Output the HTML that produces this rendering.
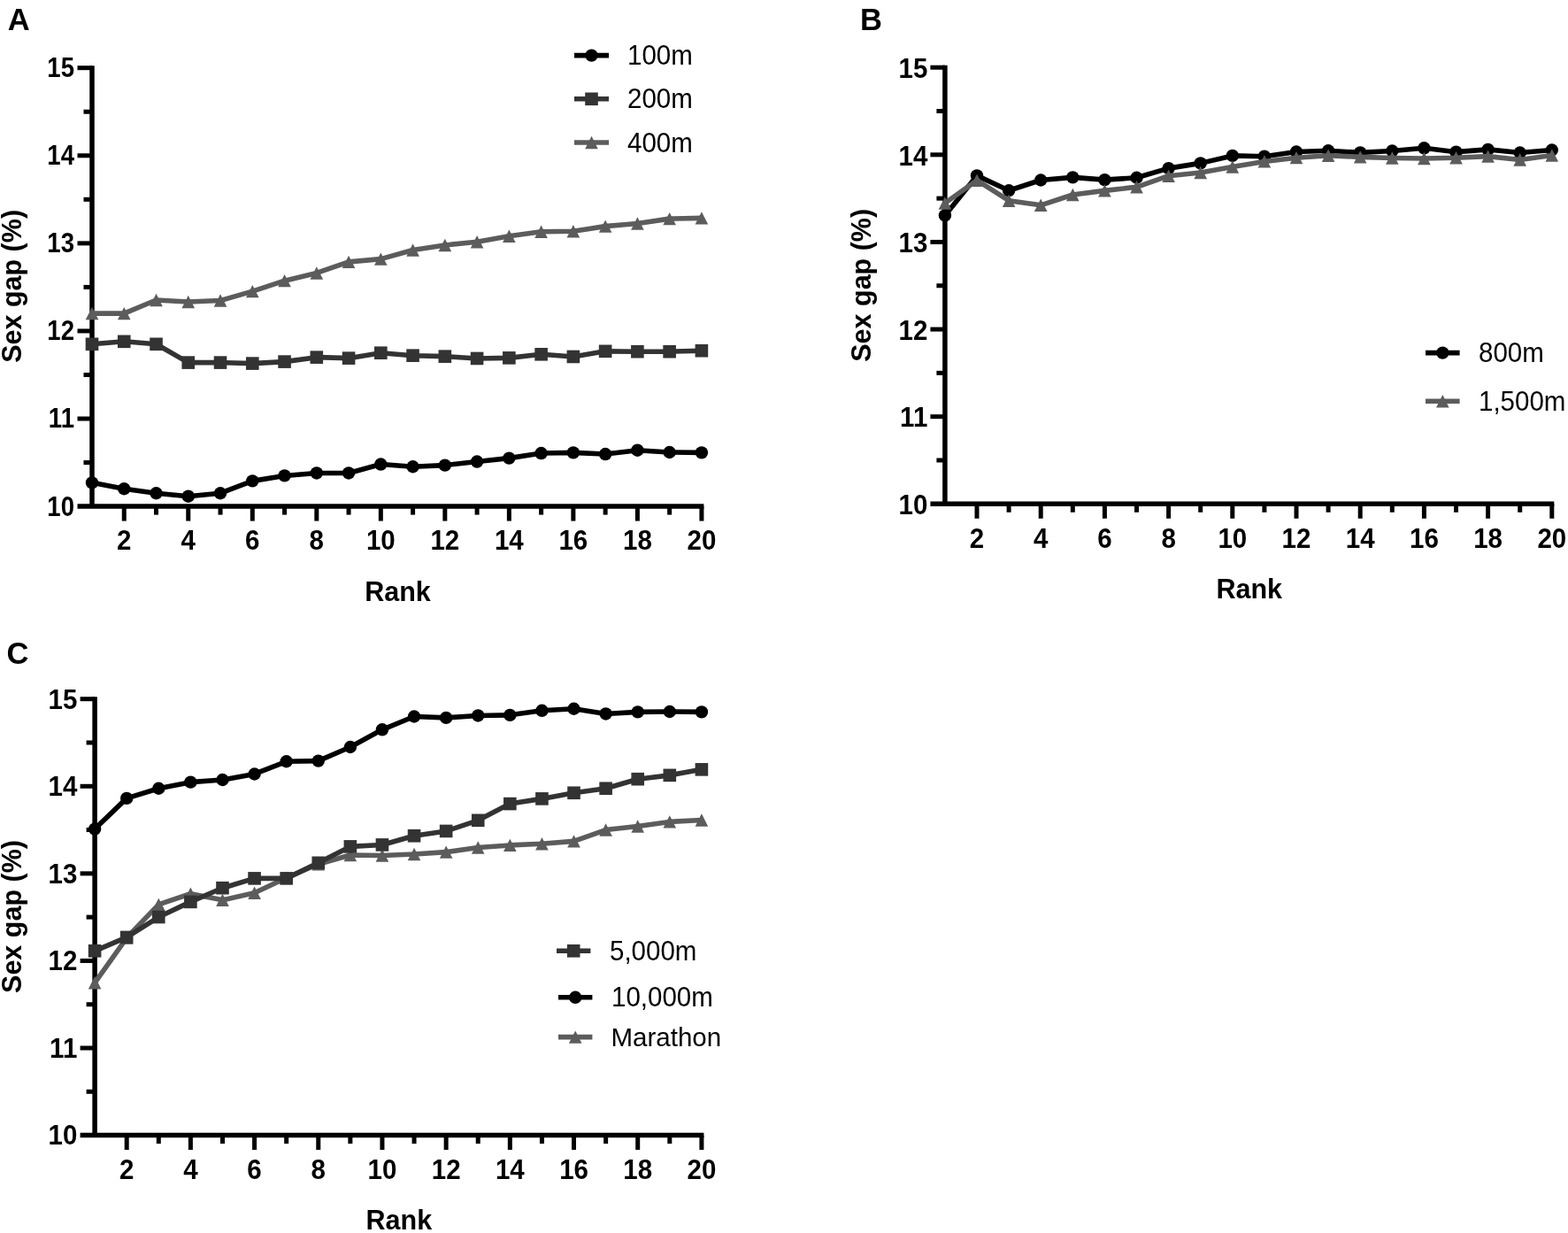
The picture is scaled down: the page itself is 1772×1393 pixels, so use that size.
<!DOCTYPE html>
<html><head><meta charset="utf-8"><title>Sex gap by rank</title>
<style>html,body{margin:0;padding:0;background:#fff;}svg{display:block;}</style>
</head><body>
<svg width="1772" height="1393" viewBox="0 0 1772 1393">
<g stroke="#000" stroke-width="5.5" stroke-linecap="butt"><line x1="104" y1="74.2" x2="104" y2="572.1"/>
<line x1="87.5" y1="572.1" x2="795.4" y2="572.1"/></g><g stroke="#000" stroke-width="5" stroke-linecap="butt"><line x1="94.5" y1="522.56" x2="104" y2="522.56"/>
<line x1="87.5" y1="473.02" x2="104" y2="473.02"/>
<line x1="94.5" y1="423.48" x2="104" y2="423.48"/>
<line x1="87.5" y1="373.94" x2="104" y2="373.94"/>
<line x1="94.5" y1="324.4" x2="104" y2="324.4"/>
<line x1="87.5" y1="274.86" x2="104" y2="274.86"/>
<line x1="94.5" y1="225.32" x2="104" y2="225.32"/>
<line x1="87.5" y1="175.78" x2="104" y2="175.78"/>
<line x1="94.5" y1="126.24" x2="104" y2="126.24"/>
<line x1="87.5" y1="76.7" x2="104" y2="76.7"/>
<line x1="140.26" y1="572.1" x2="140.26" y2="588.6"/>
<line x1="176.52" y1="572.1" x2="176.52" y2="581.6"/>
<line x1="212.77" y1="572.1" x2="212.77" y2="588.6"/>
<line x1="249.03" y1="572.1" x2="249.03" y2="581.6"/>
<line x1="285.29" y1="572.1" x2="285.29" y2="588.6"/>
<line x1="321.55" y1="572.1" x2="321.55" y2="581.6"/>
<line x1="357.81" y1="572.1" x2="357.81" y2="588.6"/>
<line x1="394.06" y1="572.1" x2="394.06" y2="581.6"/>
<line x1="430.32" y1="572.1" x2="430.32" y2="588.6"/>
<line x1="466.58" y1="572.1" x2="466.58" y2="581.6"/>
<line x1="502.84" y1="572.1" x2="502.84" y2="588.6"/>
<line x1="539.09" y1="572.1" x2="539.09" y2="581.6"/>
<line x1="575.35" y1="572.1" x2="575.35" y2="588.6"/>
<line x1="611.61" y1="572.1" x2="611.61" y2="581.6"/>
<line x1="647.87" y1="572.1" x2="647.87" y2="588.6"/>
<line x1="684.13" y1="572.1" x2="684.13" y2="581.6"/>
<line x1="720.38" y1="572.1" x2="720.38" y2="588.6"/>
<line x1="756.64" y1="572.1" x2="756.64" y2="581.6"/>
<line x1="792.9" y1="572.1" x2="792.9" y2="588.6"/></g>
<g font-family="&quot;Liberation Sans&quot;, Arial, sans-serif" font-weight="bold" font-size="29.5"><text transform="translate(84 582.52) scale(1 1.12)" text-anchor="end" font-size="27.6">10</text>
<text transform="translate(84 483.44) scale(1 1.12)" text-anchor="end" font-size="27.6">11</text>
<text transform="translate(84 384.36) scale(1 1.12)" text-anchor="end" font-size="27.6">12</text>
<text transform="translate(84 285.28) scale(1 1.12)" text-anchor="end" font-size="27.6">13</text>
<text transform="translate(84 186.2) scale(1 1.12)" text-anchor="end" font-size="27.6">14</text>
<text transform="translate(84 87.12) scale(1 1.12)" text-anchor="end" font-size="27.6">15</text>
<text transform="translate(140.26 621.3) scale(1 1.06)" text-anchor="middle">2</text>
<text transform="translate(212.77 621.3) scale(1 1.06)" text-anchor="middle">4</text>
<text transform="translate(285.29 621.3) scale(1 1.06)" text-anchor="middle">6</text>
<text transform="translate(357.81 621.3) scale(1 1.06)" text-anchor="middle">8</text>
<text transform="translate(430.32 621.3) scale(1 1.06)" text-anchor="middle">10</text>
<text transform="translate(502.84 621.3) scale(1 1.06)" text-anchor="middle">12</text>
<text transform="translate(575.35 621.3) scale(1 1.06)" text-anchor="middle">14</text>
<text transform="translate(647.87 621.3) scale(1 1.06)" text-anchor="middle">16</text>
<text transform="translate(720.38 621.3) scale(1 1.06)" text-anchor="middle">18</text>
<text transform="translate(792.9 621.3) scale(1 1.06)" text-anchor="middle">20</text></g>
<g stroke="#000" stroke-width="5.5" stroke-linecap="butt"><line x1="1067.9" y1="73.7" x2="1067.9" y2="569.3"/>
<line x1="1051.4" y1="569.3" x2="1756.3" y2="569.3"/></g><g stroke="#000" stroke-width="5" stroke-linecap="butt"><line x1="1058.4" y1="519.99" x2="1067.9" y2="519.99"/>
<line x1="1051.4" y1="470.68" x2="1067.9" y2="470.68"/>
<line x1="1058.4" y1="421.37" x2="1067.9" y2="421.37"/>
<line x1="1051.4" y1="372.06" x2="1067.9" y2="372.06"/>
<line x1="1058.4" y1="322.75" x2="1067.9" y2="322.75"/>
<line x1="1051.4" y1="273.44" x2="1067.9" y2="273.44"/>
<line x1="1058.4" y1="224.13" x2="1067.9" y2="224.13"/>
<line x1="1051.4" y1="174.82" x2="1067.9" y2="174.82"/>
<line x1="1058.4" y1="125.51" x2="1067.9" y2="125.51"/>
<line x1="1051.4" y1="76.2" x2="1067.9" y2="76.2"/>
<line x1="1104" y1="569.3" x2="1104" y2="585.8"/>
<line x1="1140.1" y1="569.3" x2="1140.1" y2="578.8"/>
<line x1="1176.2" y1="569.3" x2="1176.2" y2="585.8"/>
<line x1="1212.3" y1="569.3" x2="1212.3" y2="578.8"/>
<line x1="1248.4" y1="569.3" x2="1248.4" y2="585.8"/>
<line x1="1284.5" y1="569.3" x2="1284.5" y2="578.8"/>
<line x1="1320.6" y1="569.3" x2="1320.6" y2="585.8"/>
<line x1="1356.7" y1="569.3" x2="1356.7" y2="578.8"/>
<line x1="1392.8" y1="569.3" x2="1392.8" y2="585.8"/>
<line x1="1428.9" y1="569.3" x2="1428.9" y2="578.8"/>
<line x1="1465" y1="569.3" x2="1465" y2="585.8"/>
<line x1="1501.1" y1="569.3" x2="1501.1" y2="578.8"/>
<line x1="1537.2" y1="569.3" x2="1537.2" y2="585.8"/>
<line x1="1573.3" y1="569.3" x2="1573.3" y2="578.8"/>
<line x1="1609.4" y1="569.3" x2="1609.4" y2="585.8"/>
<line x1="1645.5" y1="569.3" x2="1645.5" y2="578.8"/>
<line x1="1681.6" y1="569.3" x2="1681.6" y2="585.8"/>
<line x1="1717.7" y1="569.3" x2="1717.7" y2="578.8"/>
<line x1="1753.8" y1="569.3" x2="1753.8" y2="585.8"/></g>
<g font-family="&quot;Liberation Sans&quot;, Arial, sans-serif" font-weight="bold" font-size="29.5"><text transform="translate(1048.3 581.04) scale(1 1.05)" text-anchor="end" font-size="29.5">10</text>
<text transform="translate(1048.3 482.42) scale(1 1.05)" text-anchor="end" font-size="29.5">11</text>
<text transform="translate(1048.3 383.8) scale(1 1.05)" text-anchor="end" font-size="29.5">12</text>
<text transform="translate(1048.3 285.18) scale(1 1.05)" text-anchor="end" font-size="29.5">13</text>
<text transform="translate(1048.3 186.56) scale(1 1.05)" text-anchor="end" font-size="29.5">14</text>
<text transform="translate(1048.3 87.94) scale(1 1.05)" text-anchor="end" font-size="29.5">15</text>
<text transform="translate(1104 618.5) scale(1 1.06)" text-anchor="middle">2</text>
<text transform="translate(1176.2 618.5) scale(1 1.06)" text-anchor="middle">4</text>
<text transform="translate(1248.4 618.5) scale(1 1.06)" text-anchor="middle">6</text>
<text transform="translate(1320.6 618.5) scale(1 1.06)" text-anchor="middle">8</text>
<text transform="translate(1392.8 618.5) scale(1 1.06)" text-anchor="middle">10</text>
<text transform="translate(1465 618.5) scale(1 1.06)" text-anchor="middle">12</text>
<text transform="translate(1537.2 618.5) scale(1 1.06)" text-anchor="middle">14</text>
<text transform="translate(1609.4 618.5) scale(1 1.06)" text-anchor="middle">16</text>
<text transform="translate(1681.6 618.5) scale(1 1.06)" text-anchor="middle">18</text>
<text transform="translate(1753.8 618.5) scale(1 1.06)" text-anchor="middle">20</text></g>
<g stroke="#000" stroke-width="5.5" stroke-linecap="butt"><line x1="107.1" y1="787.2" x2="107.1" y2="1282.6"/>
<line x1="90.6" y1="1282.6" x2="795.4" y2="1282.6"/></g><g stroke="#000" stroke-width="5" stroke-linecap="butt"><line x1="97.6" y1="1233.31" x2="107.1" y2="1233.31"/>
<line x1="90.6" y1="1184.02" x2="107.1" y2="1184.02"/>
<line x1="97.6" y1="1134.73" x2="107.1" y2="1134.73"/>
<line x1="90.6" y1="1085.44" x2="107.1" y2="1085.44"/>
<line x1="97.6" y1="1036.15" x2="107.1" y2="1036.15"/>
<line x1="90.6" y1="986.86" x2="107.1" y2="986.86"/>
<line x1="97.6" y1="937.57" x2="107.1" y2="937.57"/>
<line x1="90.6" y1="888.28" x2="107.1" y2="888.28"/>
<line x1="97.6" y1="838.99" x2="107.1" y2="838.99"/>
<line x1="90.6" y1="789.7" x2="107.1" y2="789.7"/>
<line x1="143.19" y1="1282.6" x2="143.19" y2="1299.1"/>
<line x1="179.29" y1="1282.6" x2="179.29" y2="1292.1"/>
<line x1="215.38" y1="1282.6" x2="215.38" y2="1299.1"/>
<line x1="251.48" y1="1282.6" x2="251.48" y2="1292.1"/>
<line x1="287.57" y1="1282.6" x2="287.57" y2="1299.1"/>
<line x1="323.67" y1="1282.6" x2="323.67" y2="1292.1"/>
<line x1="359.76" y1="1282.6" x2="359.76" y2="1299.1"/>
<line x1="395.86" y1="1282.6" x2="395.86" y2="1292.1"/>
<line x1="431.95" y1="1282.6" x2="431.95" y2="1299.1"/>
<line x1="468.05" y1="1282.6" x2="468.05" y2="1292.1"/>
<line x1="504.14" y1="1282.6" x2="504.14" y2="1299.1"/>
<line x1="540.24" y1="1282.6" x2="540.24" y2="1292.1"/>
<line x1="576.33" y1="1282.6" x2="576.33" y2="1299.1"/>
<line x1="612.43" y1="1282.6" x2="612.43" y2="1292.1"/>
<line x1="648.52" y1="1282.6" x2="648.52" y2="1299.1"/>
<line x1="684.62" y1="1282.6" x2="684.62" y2="1292.1"/>
<line x1="720.71" y1="1282.6" x2="720.71" y2="1299.1"/>
<line x1="756.81" y1="1282.6" x2="756.81" y2="1292.1"/>
<line x1="792.9" y1="1282.6" x2="792.9" y2="1299.1"/></g>
<g font-family="&quot;Liberation Sans&quot;, Arial, sans-serif" font-weight="bold" font-size="29.5"><text transform="translate(87.3 1293.49) scale(1 1.035)" text-anchor="end" font-size="29.5">10</text>
<text transform="translate(87.3 1194.91) scale(1 1.035)" text-anchor="end" font-size="29.5">11</text>
<text transform="translate(87.3 1096.33) scale(1 1.035)" text-anchor="end" font-size="29.5">12</text>
<text transform="translate(87.3 997.75) scale(1 1.035)" text-anchor="end" font-size="29.5">13</text>
<text transform="translate(87.3 899.17) scale(1 1.035)" text-anchor="end" font-size="29.5">14</text>
<text transform="translate(87.3 800.59) scale(1 1.035)" text-anchor="end" font-size="29.5">15</text>
<text transform="translate(143.19 1331.8) scale(1 1.06)" text-anchor="middle">2</text>
<text transform="translate(215.38 1331.8) scale(1 1.06)" text-anchor="middle">4</text>
<text transform="translate(287.57 1331.8) scale(1 1.06)" text-anchor="middle">6</text>
<text transform="translate(359.76 1331.8) scale(1 1.06)" text-anchor="middle">8</text>
<text transform="translate(431.95 1331.8) scale(1 1.06)" text-anchor="middle">10</text>
<text transform="translate(504.14 1331.8) scale(1 1.06)" text-anchor="middle">12</text>
<text transform="translate(576.33 1331.8) scale(1 1.06)" text-anchor="middle">14</text>
<text transform="translate(648.52 1331.8) scale(1 1.06)" text-anchor="middle">16</text>
<text transform="translate(720.71 1331.8) scale(1 1.06)" text-anchor="middle">18</text>
<text transform="translate(792.9 1331.8) scale(1 1.06)" text-anchor="middle">20</text></g>
<polyline fill="none" stroke="#5c5c5c" stroke-width="5.6" stroke-linejoin="round" points="104,354.12 140.26,354.12 176.52,338.96 212.77,340.95 249.03,339.56 285.29,329.16 321.55,317.17 357.81,308.45 394.06,295.86 430.32,292.6 466.58,282.49 502.84,276.94 539.09,273.27 575.35,266.74 611.61,261.68 647.87,261.29 684.13,255.64 720.38,252.57 756.64,247.12 792.9,246.42"/>
<polygon points="104,346.92 111.3,361.32 96.7,361.32" fill="#5c5c5c"/>
<polygon points="140.26,346.92 147.56,361.32 132.96,361.32" fill="#5c5c5c"/>
<polygon points="176.52,331.76 183.82,346.16 169.22,346.16" fill="#5c5c5c"/>
<polygon points="212.77,333.75 220.07,348.15 205.47,348.15" fill="#5c5c5c"/>
<polygon points="249.03,332.36 256.33,346.76 241.73,346.76" fill="#5c5c5c"/>
<polygon points="285.29,321.96 292.59,336.36 277.99,336.36" fill="#5c5c5c"/>
<polygon points="321.55,309.97 328.85,324.37 314.25,324.37" fill="#5c5c5c"/>
<polygon points="357.81,301.25 365.11,315.65 350.51,315.65" fill="#5c5c5c"/>
<polygon points="394.06,288.66 401.36,303.06 386.76,303.06" fill="#5c5c5c"/>
<polygon points="430.32,285.4 437.62,299.8 423.02,299.8" fill="#5c5c5c"/>
<polygon points="466.58,275.29 473.88,289.69 459.28,289.69" fill="#5c5c5c"/>
<polygon points="502.84,269.74 510.14,284.14 495.54,284.14" fill="#5c5c5c"/>
<polygon points="539.09,266.07 546.39,280.47 531.79,280.47" fill="#5c5c5c"/>
<polygon points="575.35,259.54 582.65,273.94 568.05,273.94" fill="#5c5c5c"/>
<polygon points="611.61,254.48 618.91,268.88 604.31,268.88" fill="#5c5c5c"/>
<polygon points="647.87,254.09 655.17,268.49 640.57,268.49" fill="#5c5c5c"/>
<polygon points="684.13,248.44 691.43,262.84 676.83,262.84" fill="#5c5c5c"/>
<polygon points="720.38,245.37 727.68,259.77 713.08,259.77" fill="#5c5c5c"/>
<polygon points="756.64,239.92 763.94,254.32 749.34,254.32" fill="#5c5c5c"/>
<polygon points="792.9,239.22 800.2,253.62 785.6,253.62" fill="#5c5c5c"/>
<polyline fill="none" stroke="#333" stroke-width="5.6" stroke-linejoin="round" points="104,388.8 140.26,385.83 176.52,388.8 212.77,409.61 249.03,409.61 285.29,410.6 321.55,408.62 357.81,403.66 394.06,404.65 430.32,398.71 466.58,401.68 502.84,402.67 539.09,404.95 575.35,404.36 611.61,400.3 647.87,402.97 684.13,396.83 720.38,397.22 756.64,397.22 792.9,396.23"/>
<rect x="96.7" y="381.5" width="14.6" height="14.6" fill="#333"/>
<rect x="132.96" y="378.53" width="14.6" height="14.6" fill="#333"/>
<rect x="169.22" y="381.5" width="14.6" height="14.6" fill="#333"/>
<rect x="205.47" y="402.31" width="14.6" height="14.6" fill="#333"/>
<rect x="241.73" y="402.31" width="14.6" height="14.6" fill="#333"/>
<rect x="277.99" y="403.3" width="14.6" height="14.6" fill="#333"/>
<rect x="314.25" y="401.32" width="14.6" height="14.6" fill="#333"/>
<rect x="350.51" y="396.36" width="14.6" height="14.6" fill="#333"/>
<rect x="386.76" y="397.35" width="14.6" height="14.6" fill="#333"/>
<rect x="423.02" y="391.41" width="14.6" height="14.6" fill="#333"/>
<rect x="459.28" y="394.38" width="14.6" height="14.6" fill="#333"/>
<rect x="495.54" y="395.37" width="14.6" height="14.6" fill="#333"/>
<rect x="531.79" y="397.65" width="14.6" height="14.6" fill="#333"/>
<rect x="568.05" y="397.06" width="14.6" height="14.6" fill="#333"/>
<rect x="604.31" y="393" width="14.6" height="14.6" fill="#333"/>
<rect x="640.57" y="395.67" width="14.6" height="14.6" fill="#333"/>
<rect x="676.83" y="389.53" width="14.6" height="14.6" fill="#333"/>
<rect x="713.08" y="389.92" width="14.6" height="14.6" fill="#333"/>
<rect x="749.34" y="389.92" width="14.6" height="14.6" fill="#333"/>
<rect x="785.6" y="388.93" width="14.6" height="14.6" fill="#333"/>
<polyline fill="none" stroke="#000" stroke-width="5.6" stroke-linejoin="round" points="104,545.35 140.26,552.28 176.52,557.24 212.77,560.71 249.03,557.24 285.29,543.37 321.55,537.42 357.81,534.45 394.06,534.45 430.32,524.54 466.58,527.22 502.84,525.63 539.09,521.57 575.35,517.61 611.61,512.06 647.87,511.36 684.13,513.05 720.38,508.69 756.64,510.97 792.9,511.36"/>
<circle cx="104" cy="545.35" r="7.2" fill="#000"/>
<circle cx="140.26" cy="552.28" r="7.2" fill="#000"/>
<circle cx="176.52" cy="557.24" r="7.2" fill="#000"/>
<circle cx="212.77" cy="560.71" r="7.2" fill="#000"/>
<circle cx="249.03" cy="557.24" r="7.2" fill="#000"/>
<circle cx="285.29" cy="543.37" r="7.2" fill="#000"/>
<circle cx="321.55" cy="537.42" r="7.2" fill="#000"/>
<circle cx="357.81" cy="534.45" r="7.2" fill="#000"/>
<circle cx="394.06" cy="534.45" r="7.2" fill="#000"/>
<circle cx="430.32" cy="524.54" r="7.2" fill="#000"/>
<circle cx="466.58" cy="527.22" r="7.2" fill="#000"/>
<circle cx="502.84" cy="525.63" r="7.2" fill="#000"/>
<circle cx="539.09" cy="521.57" r="7.2" fill="#000"/>
<circle cx="575.35" cy="517.61" r="7.2" fill="#000"/>
<circle cx="611.61" cy="512.06" r="7.2" fill="#000"/>
<circle cx="647.87" cy="511.36" r="7.2" fill="#000"/>
<circle cx="684.13" cy="513.05" r="7.2" fill="#000"/>
<circle cx="720.38" cy="508.69" r="7.2" fill="#000"/>
<circle cx="756.64" cy="510.97" r="7.2" fill="#000"/>
<circle cx="792.9" cy="511.36" r="7.2" fill="#000"/>
<polyline fill="none" stroke="#000" stroke-width="5.6" stroke-linejoin="round" points="1067.9,243.46 1104,198.39 1140.1,215.25 1176.2,203.52 1212.3,200.36 1248.4,203.12 1284.5,200.76 1320.6,190.11 1356.7,184.39 1392.8,175.9 1428.9,176.69 1465,171.47 1501.1,170.28 1537.2,172.35 1573.3,170.48 1609.4,167.32 1645.5,171.66 1681.6,168.9 1717.7,172.55 1753.8,169.49"/>
<circle cx="1067.9" cy="243.46" r="7.2" fill="#000"/>
<circle cx="1104" cy="198.39" r="7.2" fill="#000"/>
<circle cx="1140.1" cy="215.25" r="7.2" fill="#000"/>
<circle cx="1176.2" cy="203.52" r="7.2" fill="#000"/>
<circle cx="1212.3" cy="200.36" r="7.2" fill="#000"/>
<circle cx="1248.4" cy="203.12" r="7.2" fill="#000"/>
<circle cx="1284.5" cy="200.76" r="7.2" fill="#000"/>
<circle cx="1320.6" cy="190.11" r="7.2" fill="#000"/>
<circle cx="1356.7" cy="184.39" r="7.2" fill="#000"/>
<circle cx="1392.8" cy="175.9" r="7.2" fill="#000"/>
<circle cx="1428.9" cy="176.69" r="7.2" fill="#000"/>
<circle cx="1465" cy="171.47" r="7.2" fill="#000"/>
<circle cx="1501.1" cy="170.28" r="7.2" fill="#000"/>
<circle cx="1537.2" cy="172.35" r="7.2" fill="#000"/>
<circle cx="1573.3" cy="170.48" r="7.2" fill="#000"/>
<circle cx="1609.4" cy="167.32" r="7.2" fill="#000"/>
<circle cx="1645.5" cy="171.66" r="7.2" fill="#000"/>
<circle cx="1681.6" cy="168.9" r="7.2" fill="#000"/>
<circle cx="1717.7" cy="172.55" r="7.2" fill="#000"/>
<circle cx="1753.8" cy="169.49" r="7.2" fill="#000"/>
<polyline fill="none" stroke="#5c5c5c" stroke-width="5.6" stroke-linejoin="round" points="1067.9,229.55 1104,203.72 1140.1,226.69 1176.2,231.82 1212.3,219.99 1248.4,215.35 1284.5,211.31 1320.6,198.69 1356.7,195.04 1392.8,188.53 1428.9,182.41 1465,178.17 1501.1,175.71 1537.2,177.38 1573.3,178.47 1609.4,178.96 1645.5,178.27 1681.6,176.6 1717.7,180.54 1753.8,175.51"/>
<polygon points="1067.9,222.35 1075.2,236.75 1060.6,236.75" fill="#5c5c5c"/>
<polygon points="1104,196.52 1111.3,210.92 1096.7,210.92" fill="#5c5c5c"/>
<polygon points="1140.1,219.49 1147.4,233.89 1132.8,233.89" fill="#5c5c5c"/>
<polygon points="1176.2,224.62 1183.5,239.02 1168.9,239.02" fill="#5c5c5c"/>
<polygon points="1212.3,212.79 1219.6,227.19 1205,227.19" fill="#5c5c5c"/>
<polygon points="1248.4,208.15 1255.7,222.55 1241.1,222.55" fill="#5c5c5c"/>
<polygon points="1284.5,204.11 1291.8,218.51 1277.2,218.51" fill="#5c5c5c"/>
<polygon points="1320.6,191.49 1327.9,205.89 1313.3,205.89" fill="#5c5c5c"/>
<polygon points="1356.7,187.84 1364,202.24 1349.4,202.24" fill="#5c5c5c"/>
<polygon points="1392.8,181.33 1400.1,195.73 1385.5,195.73" fill="#5c5c5c"/>
<polygon points="1428.9,175.21 1436.2,189.61 1421.6,189.61" fill="#5c5c5c"/>
<polygon points="1465,170.97 1472.3,185.37 1457.7,185.37" fill="#5c5c5c"/>
<polygon points="1501.1,168.51 1508.4,182.91 1493.8,182.91" fill="#5c5c5c"/>
<polygon points="1537.2,170.18 1544.5,184.58 1529.9,184.58" fill="#5c5c5c"/>
<polygon points="1573.3,171.27 1580.6,185.67 1566,185.67" fill="#5c5c5c"/>
<polygon points="1609.4,171.76 1616.7,186.16 1602.1,186.16" fill="#5c5c5c"/>
<polygon points="1645.5,171.07 1652.8,185.47 1638.2,185.47" fill="#5c5c5c"/>
<polygon points="1681.6,169.4 1688.9,183.8 1674.3,183.8" fill="#5c5c5c"/>
<polygon points="1717.7,173.34 1725,187.74 1710.4,187.74" fill="#5c5c5c"/>
<polygon points="1753.8,168.31 1761.1,182.71 1746.5,182.71" fill="#5c5c5c"/>
<polyline fill="none" stroke="#5c5c5c" stroke-width="5.6" stroke-linejoin="round" points="107.1,1110.28 143.19,1059.51 179.29,1021.86 215.38,1009.73 251.48,1016.83 287.57,1008.74 323.67,991.79 359.76,976.21 395.86,965.96 431.95,966.55 468.05,964.98 504.14,962.61 540.24,957.48 576.33,954.92 612.43,953.24 648.52,950.39 684.62,937.57 720.71,933.53 756.81,928.4 792.9,926.43"/>
<polygon points="107.1,1103.08 114.4,1117.48 99.8,1117.48" fill="#5c5c5c"/>
<polygon points="143.19,1052.31 150.49,1066.71 135.89,1066.71" fill="#5c5c5c"/>
<polygon points="179.29,1014.66 186.59,1029.06 171.99,1029.06" fill="#5c5c5c"/>
<polygon points="215.38,1002.53 222.68,1016.93 208.08,1016.93" fill="#5c5c5c"/>
<polygon points="251.48,1009.63 258.78,1024.03 244.18,1024.03" fill="#5c5c5c"/>
<polygon points="287.57,1001.54 294.87,1015.94 280.27,1015.94" fill="#5c5c5c"/>
<polygon points="323.67,984.59 330.97,998.99 316.37,998.99" fill="#5c5c5c"/>
<polygon points="359.76,969.01 367.06,983.41 352.46,983.41" fill="#5c5c5c"/>
<polygon points="395.86,958.76 403.16,973.16 388.56,973.16" fill="#5c5c5c"/>
<polygon points="431.95,959.35 439.25,973.75 424.65,973.75" fill="#5c5c5c"/>
<polygon points="468.05,957.78 475.35,972.18 460.75,972.18" fill="#5c5c5c"/>
<polygon points="504.14,955.41 511.44,969.81 496.84,969.81" fill="#5c5c5c"/>
<polygon points="540.24,950.28 547.54,964.68 532.94,964.68" fill="#5c5c5c"/>
<polygon points="576.33,947.72 583.63,962.12 569.03,962.12" fill="#5c5c5c"/>
<polygon points="612.43,946.04 619.73,960.44 605.13,960.44" fill="#5c5c5c"/>
<polygon points="648.52,943.19 655.82,957.59 641.22,957.59" fill="#5c5c5c"/>
<polygon points="684.62,930.37 691.92,944.77 677.32,944.77" fill="#5c5c5c"/>
<polygon points="720.71,926.33 728.01,940.73 713.41,940.73" fill="#5c5c5c"/>
<polygon points="756.81,921.2 764.11,935.6 749.51,935.6" fill="#5c5c5c"/>
<polygon points="792.9,919.23 800.2,933.63 785.6,933.63" fill="#5c5c5c"/>
<polyline fill="none" stroke="#333" stroke-width="5.6" stroke-linejoin="round" points="107.1,1074.3 143.19,1058.92 179.29,1036.05 215.38,1018.9 251.48,1003.22 287.57,992.38 323.67,992.38 359.76,974.83 395.86,956.4 431.95,954.43 468.05,944.27 504.14,938.95 540.24,926.82 576.33,908.09 612.43,902.38 648.52,895.77 684.62,890.74 720.71,880.2 756.81,875.86 792.9,869.35"/>
<rect x="99.8" y="1067" width="14.6" height="14.6" fill="#333"/>
<rect x="135.89" y="1051.62" width="14.6" height="14.6" fill="#333"/>
<rect x="171.99" y="1028.75" width="14.6" height="14.6" fill="#333"/>
<rect x="208.08" y="1011.6" width="14.6" height="14.6" fill="#333"/>
<rect x="244.18" y="995.92" width="14.6" height="14.6" fill="#333"/>
<rect x="280.27" y="985.08" width="14.6" height="14.6" fill="#333"/>
<rect x="316.37" y="985.08" width="14.6" height="14.6" fill="#333"/>
<rect x="352.46" y="967.53" width="14.6" height="14.6" fill="#333"/>
<rect x="388.56" y="949.1" width="14.6" height="14.6" fill="#333"/>
<rect x="424.65" y="947.13" width="14.6" height="14.6" fill="#333"/>
<rect x="460.75" y="936.97" width="14.6" height="14.6" fill="#333"/>
<rect x="496.84" y="931.65" width="14.6" height="14.6" fill="#333"/>
<rect x="532.94" y="919.52" width="14.6" height="14.6" fill="#333"/>
<rect x="569.03" y="900.79" width="14.6" height="14.6" fill="#333"/>
<rect x="605.13" y="895.08" width="14.6" height="14.6" fill="#333"/>
<rect x="641.22" y="888.47" width="14.6" height="14.6" fill="#333"/>
<rect x="677.32" y="883.44" width="14.6" height="14.6" fill="#333"/>
<rect x="713.41" y="872.9" width="14.6" height="14.6" fill="#333"/>
<rect x="749.51" y="868.56" width="14.6" height="14.6" fill="#333"/>
<rect x="785.6" y="862.05" width="14.6" height="14.6" fill="#333"/>
<polyline fill="none" stroke="#000" stroke-width="5.6" stroke-linejoin="round" points="107.1,936.58 143.19,901.88 179.29,890.74 215.38,883.65 251.48,880.99 287.57,874.48 323.67,860.28 359.76,859.59 395.86,844.02 431.95,824.3 468.05,809.51 504.14,810.89 540.24,808.43 576.33,807.84 612.43,802.81 648.52,800.74 684.62,806.46 720.71,804.39 756.81,803.99 792.9,804.39"/>
<circle cx="107.1" cy="936.58" r="7.2" fill="#000"/>
<circle cx="143.19" cy="901.88" r="7.2" fill="#000"/>
<circle cx="179.29" cy="890.74" r="7.2" fill="#000"/>
<circle cx="215.38" cy="883.65" r="7.2" fill="#000"/>
<circle cx="251.48" cy="880.99" r="7.2" fill="#000"/>
<circle cx="287.57" cy="874.48" r="7.2" fill="#000"/>
<circle cx="323.67" cy="860.28" r="7.2" fill="#000"/>
<circle cx="359.76" cy="859.59" r="7.2" fill="#000"/>
<circle cx="395.86" cy="844.02" r="7.2" fill="#000"/>
<circle cx="431.95" cy="824.3" r="7.2" fill="#000"/>
<circle cx="468.05" cy="809.51" r="7.2" fill="#000"/>
<circle cx="504.14" cy="810.89" r="7.2" fill="#000"/>
<circle cx="540.24" cy="808.43" r="7.2" fill="#000"/>
<circle cx="576.33" cy="807.84" r="7.2" fill="#000"/>
<circle cx="612.43" cy="802.81" r="7.2" fill="#000"/>
<circle cx="648.52" cy="800.74" r="7.2" fill="#000"/>
<circle cx="684.62" cy="806.46" r="7.2" fill="#000"/>
<circle cx="720.71" cy="804.39" r="7.2" fill="#000"/>
<circle cx="756.81" cy="803.99" r="7.2" fill="#000"/>
<circle cx="792.9" cy="804.39" r="7.2" fill="#000"/>
<g font-family="&quot;Liberation Sans&quot;, Arial, sans-serif" font-size="29.5" fill="#000"><line x1="649" y1="62.6" x2="688" y2="62.6" stroke="#000" stroke-width="5.6"/><circle cx="668.5" cy="62.6" r="7.2" fill="#000"/><text transform="translate(709 73.1) scale(1 1.05)">100m</text>
<line x1="649" y1="111.8" x2="688" y2="111.8" stroke="#333" stroke-width="5.6"/><rect x="661.2" y="104.5" width="14.6" height="14.6" fill="#333"/><text transform="translate(709 122.3) scale(1 1.05)">200m</text>
<line x1="649" y1="161" x2="688" y2="161" stroke="#5c5c5c" stroke-width="5.6"/><polygon points="668.5,153.8 675.8,168.2 661.2,168.2" fill="#5c5c5c"/><text transform="translate(709 171.5) scale(1 1.05)">400m</text>
<line x1="1611" y1="398.6" x2="1649.6" y2="398.6" stroke="#000" stroke-width="5.6"/><circle cx="1630.3" cy="398.6" r="7.2" fill="#000"/><text transform="translate(1671 409.1) scale(1 1.05)">800m</text>
<line x1="1611" y1="453.2" x2="1649.6" y2="453.2" stroke="#5c5c5c" stroke-width="5.6"/><polygon points="1630.3,446 1637.6,460.4 1623,460.4" fill="#5c5c5c"/><text transform="translate(1671 463.7) scale(1 1.05)">1,500m</text>
<line x1="629" y1="1074.3" x2="667.4" y2="1074.3" stroke="#333" stroke-width="5.6"/><rect x="640.9" y="1067" width="14.6" height="14.6" fill="#333"/><text transform="translate(689 1084.8) scale(1 1.05)">5,000m</text>
<line x1="631" y1="1126.8" x2="669.4" y2="1126.8" stroke="#000" stroke-width="5.6"/><circle cx="650.2" cy="1126.8" r="7.2" fill="#000"/><text transform="translate(691 1137.3) scale(1 1.05)">10,000m</text>
<line x1="631" y1="1171.6" x2="669.4" y2="1171.6" stroke="#5c5c5c" stroke-width="5.6"/><polygon points="650.2,1164.4 657.5,1178.8 642.9,1178.8" fill="#5c5c5c"/><text transform="translate(690.5 1182.1) scale(1 1.0)">Marathon</text></g>
<g font-family="&quot;Liberation Sans&quot;, Arial, sans-serif" font-weight="bold" font-size="30.5"><text x="449.5" y="679" text-anchor="middle">Rank</text>
<text x="1411.7" y="676" text-anchor="middle">Rank</text>
<text x="450.9" y="1389" text-anchor="middle">Rank</text>
<text transform="translate(23.7 323.4) rotate(-90)" text-anchor="middle">Sex gap (%)</text>
<text transform="translate(983.9 322.3) rotate(-90)" text-anchor="middle">Sex gap (%)</text>
<text transform="translate(23.7 1035.5) rotate(-90)" text-anchor="middle">Sex gap (%)</text></g>
<g font-family="&quot;Liberation Sans&quot;, Arial, sans-serif" font-weight="bold" font-size="34.5"><text x="8.8" y="34.2">A</text>
<text x="972" y="34.1">B</text>
<text x="7.5" y="749.8">C</text></g>
</svg>
</body></html>
